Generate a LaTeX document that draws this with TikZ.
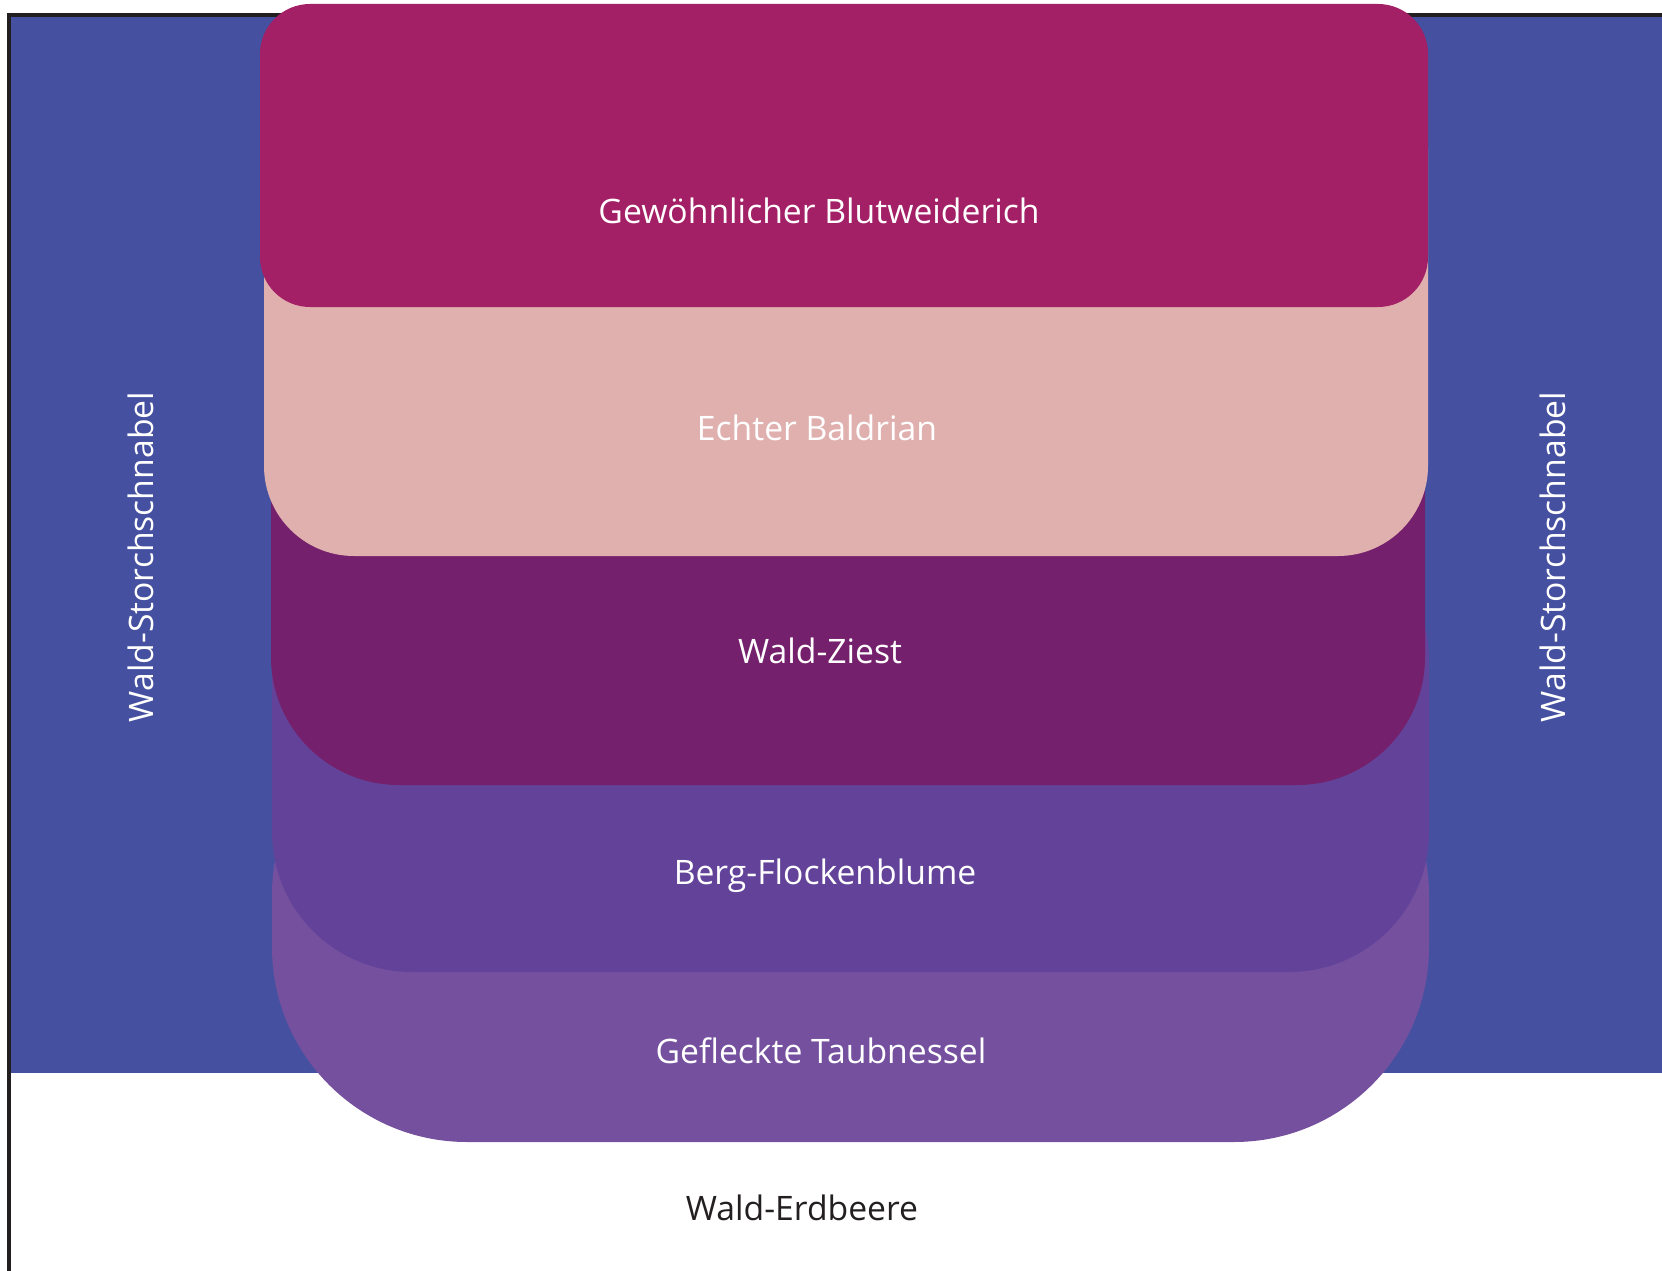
\documentclass[tikz,border=0pt]{standalone}
\usepackage{fontspec}
\newfontfamily\labelfont{Open Sans}
\definecolor{frameblue}{HTML}{4551A0}
\definecolor{edgeblack}{HTML}{231F20}
\definecolor{blutweiderich}{HTML}{A31F66}
\definecolor{baldrian}{HTML}{E0B0AF}
\definecolor{ziest}{HTML}{75206C}
\definecolor{flockenblume}{HTML}{634399}
\definecolor{taubnessel}{HTML}{75509F}
\tikzset{
  lbl/.style={text=white, inner sep=0pt, anchor=base,
    font=\labelfont\fontsize{33.7}{40}\selectfont},
  sidelbl/.style={lbl, anchor=center, rotate=90},
  darklbl/.style={lbl, text=edgeblack}
}
\begin{document}
\begin{tikzpicture}[x=1pt,y=-1pt]
  \useasboundingbox (0,0) rectangle (1662,1271);
  % background band and frame
  \fill[frameblue] (11,17) rectangle (1662,1073);
  \fill[edgeblack] (7,13) rectangle (1662,17);
  \fill[edgeblack] (7,13) rectangle (11,1271);
  % stacked layers, lowest first
  \fill[taubnessel, rounded corners=195pt] (272,700) rectangle (1429,1142);
  \fill[flockenblume, rounded corners=140pt] (272,520) rectangle (1429,972);
  \fill[ziest, rounded corners=128pt] (271,300) rectangle (1425,785);
  \fill[baldrian, rounded corners=90pt] (264,60) rectangle (1428,556);
  \fill[blutweiderich, rounded corners=50pt] (260,4) rectangle (1428,307);
  % labels
  \node[lbl] (gb) at (819,223) {Gewöhnlicher Blutweiderich};
  \node[lbl] (eb) at (817,440) {Echter Baldrian};
  \node[lbl] (wz) at (820,663) {Wald-Ziest};
  \node[lbl] (bf) at (825,884) {Berg-Flockenblume};
  \node[lbl] (gt) at (821,1063) {Gefleckte Taubnessel};
  \node[darklbl] (we) at (802,1220) {Wald-Erdbeere};
  \node[sidelbl] (wsl) at (141,557) {Wald-Storchschnabel};
  \node[sidelbl] (wsr) at (1553,557) {Wald-Storchschnabel};
\end{tikzpicture}
\end{document}
